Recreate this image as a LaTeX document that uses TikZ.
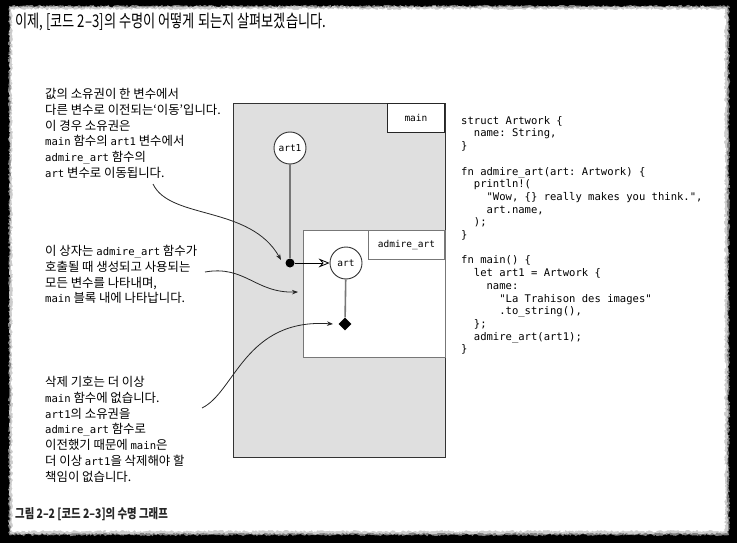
\documentclass[tikz,border=0pt]{standalone}
\usepackage{fontspec}
\setmonofont{DejaVu Sans Mono}
\newfontfamily\kr{Noto Sans CJK KR}
\newfontfamily\krtitle[FakeStretch=0.755]{Noto Sans CJK KR}
\newfontfamily\krcap[FakeStretch=0.8]{Noto Sans CJK KR}
\usetikzlibrary{arrows.meta,decorations.pathmorphing,shapes.geometric}
\newcommand\cw[1]{{\fontsize{10.6}{15.8}\ttfamily #1}}
\newcommand\indt{\phantom{xx}}
\definecolor{boxgray}{HTML}{DFDFDF}
\definecolor{linegray}{HTML}{777777}
\tikzset{
  annot/.style={anchor=north west, align=left, inner sep=0pt, font=\kr\fontsize{12.4}{15.8}\selectfont},
  lbl/.style={draw=#1, fill=white, line width=1.1pt, anchor=north east, font=\fontsize{9.5}{11}\ttfamily},
  var/.style={circle, draw=black!80, fill=white, line width=0.9pt, minimum size=32pt, inner sep=0pt, font=\fontsize{9.5}{11}\ttfamily},
  life/.style={draw=linegray, line width=1.6pt},
  note/.style={draw=black!85, line width=0.8pt, -{Stealth[length=6pt,width=4.5pt]}},
  torn/.style={decorate, decoration={random steps, segment length=1.5pt, amplitude=1.1pt}}
}
\begin{document}
\setlength{\lineskiplimit}{-100pt}
\begin{tikzpicture}[x=1pt,y=-1pt]
\pgfmathsetseed{7}
\useasboundingbox (0,0) rectangle (737,543);
\fill[black] (0,0) rectangle (737,543);
\fill[black!50, torn] (9,6) rectangle (729,535);
\fill[black!20, torn] (10,7) rectangle (727.5,533.5);
\fill[white, torn] (12,9) rectangle (725,531);

\node[anchor=west, inner sep=0pt, font=\krtitle\fontsize{17.5}{20}\selectfont] (title) at (15,22) {이제, [코드 2–3]의 수명이 어떻게 되는지 살펴보겠습니다.};
\node[anchor=west, inner sep=0pt, text=black!85, font=\krcap\bfseries\fontsize{13}{15}\selectfont] (caption) at (15,514) {그림 2–2 [코드 2–3]의 수명 그래프};

% main block
\node[draw=black!80, fill=boxgray, line width=1.1pt, anchor=north west, minimum width=212pt, minimum height=354pt, inner sep=0pt] (mainbox) at (233,103) {};
\node[lbl=black!85, minimum width=57pt, minimum height=29pt] (mainlbl) at (445,103) {main};
% admire_art block
\node[draw=linegray, fill=white, line width=1.3pt, anchor=north west, minimum width=142pt, minimum height=127pt, inner sep=0pt] (adbox) at (303,230) {};
\node[lbl=linegray, minimum width=76pt, minimum height=29pt] (adlbl) at (445,230) {admire\_art};

\node[var] (art1) at (290,148) {art1};
\node[circle, fill=black, minimum size=9pt, inner sep=0pt] (dot) at (290,263) {};
\node[var] (art) at (346,263) {art};
\node[diamond, fill=black, minimum size=13pt, inner sep=0pt] (drop) at (345,324) {};

\draw[life] (art1) -- (dot);
\draw[life] (art) -- (drop);
\draw[line width=0.9pt, -{Stealth[open, length=11pt, width=9pt, inset=4pt, line width=0.8pt]}] (dot) -- (art);

% annotations
\node[annot] (n1) at (45,88) {값의 소유권이 한 변수에서\\
다른 변수로 이전되는‘이동’입니다.\\
이 경우 소유권은\\
\cw{main} 함수의 \cw{art1} 변수에서\\
\cw{admire\_art} 함수의\\
\cw{art} 변수로 이동됩니다.};
\node[annot] (n2) at (45,245) {이 상자는 \cw{admire\_art} 함수가\\
호출될 때 생성되고 사용되는\\
모든 변수를 나타내며,\\
\cw{main} 블록 내에 나타납니다.};
\node[annot] (n3) at (45,376) {삭제 기호는 더 이상\\
\cw{main} 함수에 없습니다.\\
\cw{art1}의 소유권을\\
\cw{admire\_art} 함수로\\
이전했기 때문에 \cw{main}은\\
더 이상 \cw{art1}을 삭제해야 할\\
책임이 없습니다.};

\coordinate (s1) at (153,184);
\coordinate (e1) at (281,260);
\coordinate (s2) at (205,272);
\coordinate (e2) at (298,292);
\coordinate (s3) at (202,408);
\coordinate (e3) at (333,324);
\draw[note] (s1) .. controls (170,220) and (250,205) .. (e1);
\draw[note] (s2) .. controls (245,265) and (255,293) .. (e2);
\draw[note] (s3) .. controls (235,392) and (245,318) .. (e3);

% code
\node[anchor=north west, align=left, inner sep=0pt, font=\fontsize{10.55}{12.7}\ttfamily] (code) at (461,116) {struct Artwork \{\\
\indt name: String,\\
\}\\[12.7pt]
fn admire\_art(art: Artwork) \{\\
\indt println!(\\
\indt\indt "Wow, \{\} really makes you think.",\\
\indt\indt art.name,\\
\indt );\\
\}\\[12.7pt]
fn main() \{\\
\indt let art1 = Artwork \{\\
\indt\indt name:\\
\indt\indt\indt "La Trahison des images"\\
\indt\indt\indt .to\_string(),\\
\indt \};\\
\indt admire\_art(art1);\\
\}};
\end{tikzpicture}
\end{document}
